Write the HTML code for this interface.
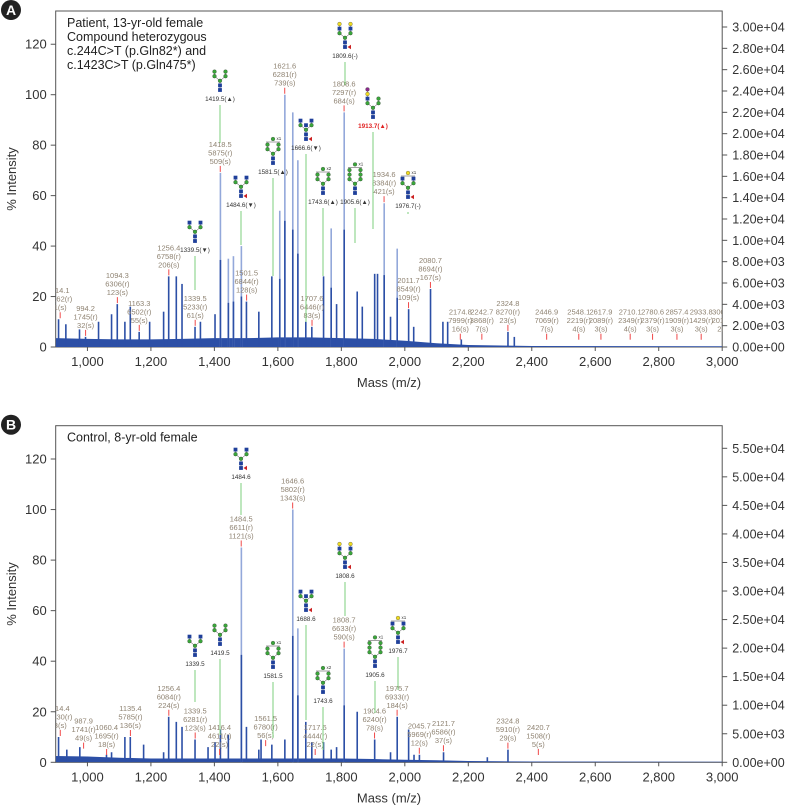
<!DOCTYPE html>
<html><head><meta charset="utf-8"><style>
html,body{margin:0;padding:0;background:#fff;}
svg{display:block;font-family:"Liberation Sans",Arial,sans-serif;}
</style></head><body>
<svg id="fig" width="785" height="809" viewBox="0 0 785 809" xmlns="http://www.w3.org/2000/svg"></svg>
<script>
// ---------- DATA ----------
const peaksA_mz = [909,932,975,994,1035,1076,1094,1118,1135,1163,1196,1240,1256,1280,1298,1339,1356,1402,1419,1444,1460,1485,1501,1540,1581,1606,1622,1647,1663,1688,1707,1744,1768,1785,1809,1850,1866,1905,1914,1935,1955,1976,2012,2028,2081,2120,2135,2178,2325,2345];
const peaksA_val = [11,9,7,4,10,13,17,10,16,6,10,14,28,28,25,8,10,13,69,35,36,40,18,14,28,54,100,93,74,10,8,28,47,17,93,22,16,29,29,57,12,39,15,8,23,10,10,3,6,4];
const peaksB_mz = [909,935,976,1060,1076,1118,1135,1177,1240,1256,1280,1298,1339,1380,1402,1419,1444,1485,1501,1540,1547,1581,1622,1647,1663,1688,1707,1744,1768,1785,1809,1850,1905,1955,1976,2012,2029,2046,2122,2260,2325];
const peaksB_val = [10,5,6,3,4,10,10,7,4,18,16,14,9,6,8,13,11,85,14,5,9,7,9,100,53,16,8,8,5,6,45,20,9,4,18,13,3,3,4,2,5];
const baseA_mz = [900,1000,1100,1200,1300,1400,1500,1600,1700,1800,1900,2000,2100,2200,2300,2400,3000];
const baseA_val = [3.5,3.2,3,3,3.2,3.5,3.5,3.8,3.8,3.5,3.2,2.5,1.5,0.8,0.6,0.4,0.3];
const baseB_mz = [900,1000,1100,1200,1300,1400,1500,1600,1700,1800,1900,2000,2100,2200,2300,2400,3000];
const baseB_val = [2.5,2.3,1.8,1.5,1.5,1.5,1.5,1.5,1.5,1.5,1.3,1,0.8,0.5,0.4,0.3,0.2];
const leftTicks = [0,20,40,60,80,100,120];
const xTicks = [1000,1200,1400,1600,1800,2000,2200,2400,2600,2800,3000];
const rightTicksA = [0,2000,4000,6000,8000,10000,12000,14000,16000,18000,20000,22000,24000,26000,28000,30000];
const rightTicksB = [0,5000,10000,15000,20000,25000,30000,35000,40000,45000,50000,55000];
const labA_mz = [914.1,994.2,1094.3,1163.3,1256.4,1339.5,1418.5,1501.5,1621.6,1707.6,1808.6,1934.6,2011.7,2080.7,2174.8,2242.7,2324.8,2446.9,2548.1,2617.9,2710.1,2780.6,2857.4,2933.8,3004.6];
const labA_val = [11,4,17,6,28,8,69,18,100,8,93,57,15,23,1,1,6,1,1,1,1,1,1,1,1];
const labA_r = ["6162(r)","1745(r)","6306(r)","6502(r)","6758(r)","5233(r)","5875(r)","6844(r)","6281(r)","6446(r)","7297(r)","8384(r)","8549(r)","8694(r)","7999(r)","3868(r)","8270(r)","7069(r)","2219(r)","2089(r)","2349(r)","2379(r)","1909(r)","1429(r)","2010(r)"];
const labA_s = ["1(s)","32(s)","123(s)","55(s)","206(s)","61(s)","509(s)","128(s)","739(s)","83(s)","684(s)","421(s)","109(s)","167(s)","16(s)","7(s)","23(s)","7(s)","4(s)","3(s)","4(s)","3(s)","3(s)","3(s)","2(s)"];
const labB_mz = [914.4,987.9,1060.4,1135.4,1256.4,1339.5,1416.4,1484.5,1561.5,1646.6,1717.6,1808.7,1904.6,1975.7,2045.7,2121.7,2324.8,2420.7];
const labB_val = [10,5,2,10,18,9,1,85,6,100,2,45,9,18,3,4,5,1];
const labB_r = ["6430(r)","1741(r)","1695(r)","5785(r)","6084(r)","6281(r)","4611(r)","6611(r)","6780(r)","5802(r)","4444(r)","6633(r)","6240(r)","6933(r)","5969(r)","6586(r)","5910(r)","1508(r)"];
const labB_s = ["8(s)","49(s)","18(s)","136(s)","224(s)","123(s)","22(s)","1121(s)","56(s)","1343(s)","22(s)","590(s)","78(s)","184(s)","12(s)","37(s)","29(s)","5(s)"];
const glyA = [
 [195,222,"1339.5(▼)",252,290,"bg"],[220,72,"1419.5(▲)",101,143,"man"],[241,178,"1484.6(▼)",207,245,"bgf"],
 [273,137,"1581.5(▲)",174,276,"man1"],[306,122,"1666.6(▼)",150,322,"bisf"],[323,168,"1743.6(▲)",204,276,"man2"],
 [345,25,"1809.6(-)",58,85,"ybgf"],[355,172,"1905.6(▲)",204,243,"man3"],[373,92,"1913.7(▲)",128,229,"sia"],[408,173,"1976.7(-)",208,214,"y1f"]];
const glyB = [
 [195,637,"1339.5",666,702,"bg"],[220,628,"1419.5",655,735,"man"],[241,450,"1484.6",479,515,"bgf"],
 [273,641,"1581.5",678,738,"man1"],[306,593,"1688.6",621,720,"bisf"],[323,667,"1743.6",703,750,"man2"],
 [345,545,"1808.6",578,616,"ybgf"],[375,643,"1905.6",677,713,"man3"],[398,617,"1976.7",653,690,"y1f"]];

// ---------- DRAW ----------
const NS="http://www.w3.org/2000/svg";
const svg=document.getElementById('fig');
function mk(tag,attrs,parent,text){const e=document.createElementNS(NS,tag);for(const k in attrs)e.setAttribute(k,attrs[k]);if(text!==undefined)e.textContent=text;(parent||svg).appendChild(e);return e;}
const L=55.7, R=722.2;
function xs(m){return L+(m-900)*(R-L)/2100;}

function panel(id,top,bottom,letter,titleLines,pmz,pval,bmz,bval,rTicks,rMax,lmz,lval,lr,ls,gly){
  const g=mk('g',{});  
  const y0=bottom;
  const unit=(id==='a')?2.523:2.5275;
  const ys=v=>y0-v*unit;
  const clipId='clip'+id;
  const cp=mk('clipPath',{id:clipId},g); mk('rect',{x:L,y:top,width:R-L,height:bottom-top},cp);
  const lc=mk('circle',{cx:11,cy:top-1,r:10,fill:'#222'},g);  
  mk('text',{x:11,y:top+4,'text-anchor':'middle','font-size':14,'font-weight':'bold',fill:'#fff'},g,letter);
  const fr=mk('rect',{x:L,y:top,width:R-L,height:bottom-top,fill:'none',stroke:'#555','stroke-width':1},g);
   
  const pg=mk('g',{'clip-path':'url(#'+clipId+')'},g);
  let pts=[[xs(900),y0]];
  bmz.forEach((m,i)=>pts.push([xs(m),ys(bval[i])]));
  pts.push([xs(3000),y0]);
  const bl=mk('polygon',{points:pts.map(p=>p.join(',')).join(' '),fill:'#2c4fa6'},pg);
   
  pmz.forEach((m,i)=>{
    const v=pval[i];
    const p=mk('line',{x1:xs(m),x2:xs(m),y1:y0,y2:ys(v),stroke:v>30?'#93a8da':'#2c4fa6','stroke-width':1.6},pg);
     
    if(v>30){mk('line',{x1:xs(m),x2:xs(m),y1:y0,y2:ys(v*0.5),stroke:'#2c4fa6','stroke-width':1.6},pg);}
  });
  const ag=mk('g',{'clip-path':'url(#'+clipId+')'},g);
  lmz.forEach((m,i)=>{
    const v=Math.max(lval[i],2.5), x=xs(m);
    const t=mk('line',{x1:x,x2:x,y1:ys(v)-1,y2:ys(v)-7,stroke:'#f04848','stroke-width':1},ag);
     
    const by=ys(v)-9;
    const lines=[m.toFixed(1),lr[i],ls[i]];
    lines.forEach((s,j)=>{const tx=mk('text',{x:x,y:by-(2-j)*8.5,'text-anchor':'middle','font-size':7.5,fill:'#8f8372'},ag,s);
       });
  });
  gly.forEach(gl=>{
    const [cx,gt,lab,ly,le,type]=gl;
    const gg=mk('g',{},g);  
    glycan(gg,cx,ly-8,type);
    const isRed=(lab.indexOf('1913.7')===0);
    mk('text',{x:cx,y:ly,'text-anchor':'middle','font-size':6.3,'font-weight':isRed?'bold':'normal',fill:isRed?'#e02020':'#333'},gg,lab);
    mk('line',{x1:cx,x2:cx,y1:ly+4,y2:le,stroke:'#7ccf7c','stroke-width':1},gg);
  });
  leftTicks.forEach(v=>{
    mk('line',{x1:L-5,x2:L,y1:ys(v),y2:ys(v),stroke:'#555'},g);
    const t=mk('text',{x:L-9,y:ys(v)+4.5,'text-anchor':'end','font-size':13,fill:'#333'},g,v);
     
  });
  xTicks.forEach(m=>{
    mk('line',{x1:xs(m),x2:xs(m),y1:y0,y2:y0+4,stroke:'#555'},g);
    const t=mk('text',{x:xs(m),y:y0+19,'text-anchor':'middle','font-size':13,fill:'#333'},g,m.toLocaleString('en-US'));
     
  });
  rTicks.forEach(v=>{
    const y=y0-v/rMax*(id==='a'?320:314);
    mk('line',{x1:R,x2:R+5,y1:y,y2:y,stroke:'#555'},g);
    const t=mk('text',{x:R+10,y:y+4.5,'font-size':12.5,fill:'#333'},g,v.toExponential(2).replace('e+','e+0'));
     
  });
  const yt=mk('text',{x:0,y:0,transform:'translate(16,'+((top+bottom)/2)+') rotate(-90)','text-anchor':'middle','font-size':13,fill:'#333'},g,'% Intensity');
   
  const xt=mk('text',{x:389,y:bottom+40,'text-anchor':'middle','font-size':13,fill:'#333'},g,'Mass (m/z)');
   
  titleLines.forEach((s,j)=>{const t=mk('text',{x:67,y:top+16+j*14,'font-size':12.5,fill:'#222'},g,s);
     });
}

const C={B:'#1f3f9a',G:'#3aa63a',Y:'#f0dc20',F:'#cc2222',P:'#8a2a8a'};
function sym(g,t,x,y){
  if(t==='B') mk('rect',{x:x-1.9,y:y-1.9,width:3.8,height:3.8,fill:C.B},g);
  else mk('circle',{cx:x,cy:y,r:1.9,fill:C[t],stroke:'#333','stroke-width':0.3},g);
}
function glycan(g,cx,bottom,type){
  const s=4.6;
  const fuc=type.indexOf('f')>=0;
  const y=bottom-3;
  const br=y-2*s;
  let armL=[],armR=[],extra=null;
  if(type==='bg'||type==='bgf'||type==='bisf'||type==='y1f'){armL=['G','B'];armR=['G','B'];}
  if(type==='ybgf'){armL=['G','B','Y'];armR=['G','B','Y'];}
  if(type.indexOf('man')===0){armL=['G','G'];armR=['G','G'];if(type!=='man')extra='G';}
  if(type==='man3'){armL=['G','G','G'];armR=['G','G','G'];}
  if(type==='sia'){armL=['G','B','Y','P'];armR=['G','G'];}
  if(type==='y1f')extra='Y';
  mk('line',{x1:cx,y1:y,x2:cx,y2:br,stroke:'#444','stroke-width':0.5},g);
  [armL,armR].forEach((a,si)=>{
    const dx=si?5.5:-5.5;
    if(!a.length)return;
    mk('line',{x1:cx,y1:br,x2:cx+dx,y2:br-s,stroke:'#444','stroke-width':0.5},g);
    mk('line',{x1:cx+dx,y1:br-s,x2:cx+dx,y2:br-s*a.length,stroke:'#444','stroke-width':0.5},g);
  });
  sym(g,'B',cx,y);sym(g,'B',cx,y-s);sym(g,'G',cx,br);
  if(type==='bisf')sym(g,'B',cx,br-s);
  armL.forEach((t,i)=>sym(g,t,cx-5.5,br-s*(i+1)));
  armR.forEach((t,i)=>sym(g,t,cx+5.5,br-s*(i+1)));
  if(fuc||type==='y1f')mk('polygon',{points:(cx+2.5)+','+y+' '+(cx+6)+','+(y-2.2)+' '+(cx+6)+','+(y+2.2),fill:C.F},g);
  if(extra){
    const ty=br-s*(Math.max(armL.length,armR.length)+1)-1;
    mk('line',{x1:cx-7,x2:cx+7,y1:ty+3,y2:ty+3,stroke:'#444','stroke-width':0.5},g);
    sym(g,extra,cx,ty);
    mk('text',{x:cx+3.5,y:ty+1,'font-size':4.5,fill:'#333'},g,type==='man2'?'x2':'x1');
  }
}

panel('a',11,347,'A',["Patient, 13-yr-old female","Compound heterozygous","c.244C>T (p.Gln82*) and","c.1423C>T (p.Gln475*)"],
  peaksA_mz,peaksA_val,baseA_mz,baseA_val,rightTicksA,30000,labA_mz,labA_val,labA_r,labA_s,glyA);
panel('b',425.7,762.3,'B',["Control, 8-yr-old female"],
  peaksB_mz,peaksB_val,baseB_mz,baseB_val,rightTicksB,55000,labB_mz,labB_val,labB_r,labB_s,glyB);
</script>
</body></html>
